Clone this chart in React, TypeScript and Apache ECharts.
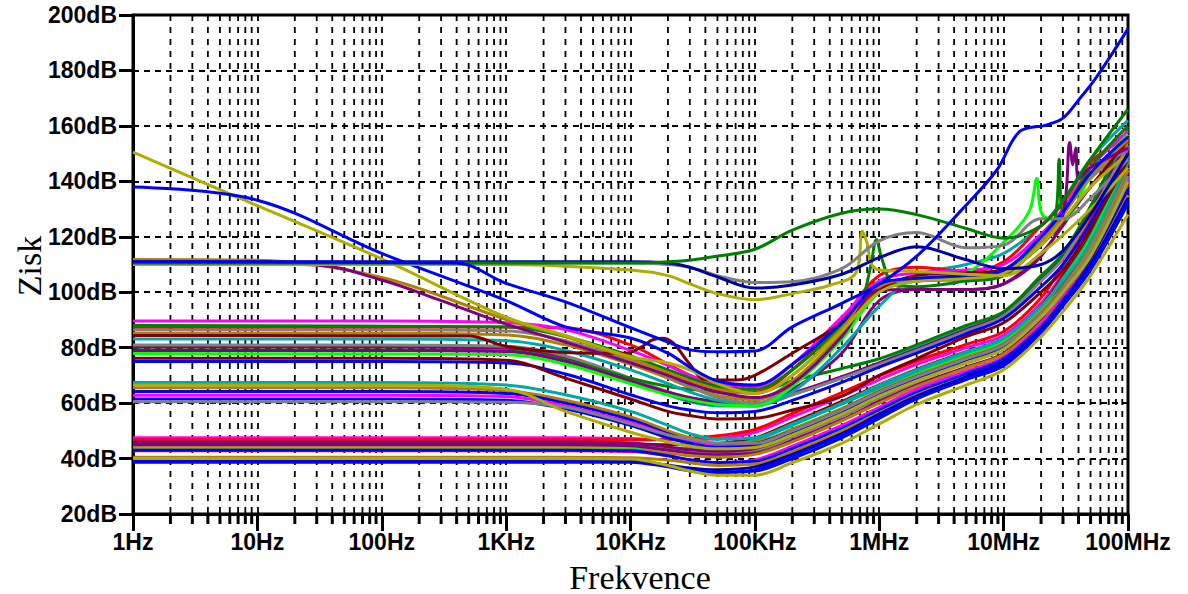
import React, { useEffect, useRef } from "react";
import * as echarts from "echarts";

// ---------- axis ticks ----------
const xTickValues = [1, 10, 100, 1e3, 1e4, 1e5, 1e6, 1e7, 1e8];
const xTickLabels = ["1Hz", "10Hz", "100Hz", "1KHz", "10KHz", "100KHz", "1MHz", "10MHz", "100MHz"];
const yTickLabels = ["20dB", "40dB", "60dB", "80dB", "100dB", "120dB", "140dB", "160dB", "180dB", "200dB"];
const decadeStarts = [1, 10, 100, 1e3, 1e4, 1e5, 1e6, 1e7];
const minorSteps = [2, 3, 4, 5, 6, 7, 8, 9];

// ---------- common frequency grid (Hz) ----------
const F = [1, 10, 100, 1e3, 3e3, 1e4, 2e4, 3e4, 5e4, 1e5, 2e5, 5e5, 1e6, 2e6, 5e6, 1e7, 2e7, 3e7, 5e7, 1e8];

// bottom group (~38-48 dB at low frequency)
const b01 = [47.5, 47.5, 47.5, 47.5, 47.5, 47.2, 46.8, 46.8, 47.2, 49.5, 55, 62.5, 68.5, 74, 80, 84.5, 96, 107, 123, 152];
const b02 = [46.8, 46.8, 46.8, 46.8, 46.8, 46.8, 47, 47.4, 48.2, 50.5, 56.2, 63.8, 69.8, 75.2, 81.2, 85.8, 98, 110, 126, 155];
const b03 = [46, 46, 46, 46, 46, 45.6, 44.2, 43.2, 42.6, 43.6, 48.6, 56.2, 62.6, 68.6, 75.2, 80.2, 92, 103, 118, 146];
const b04 = [45.5, 45.5, 45.5, 45.5, 45.5, 45.3, 45, 45, 45.4, 47.4, 53, 60.6, 66.6, 72.2, 78.6, 83.2, 95, 106, 121, 150];
const b05 = [45, 45, 45, 45, 45, 44.6, 43, 42, 41.4, 42, 46.6, 54, 60.6, 66.6, 73, 78, 90, 101, 116, 143];
const b06 = [44.5, 44.5, 44.5, 44.5, 44.5, 44.3, 43.5, 43, 43, 44.5, 50, 57.6, 64, 70, 76.5, 81.5, 93, 104, 119, 147];
const b07 = [44, 44, 44, 44, 44, 43.8, 43.6, 43.8, 44.6, 46.6, 52, 59.6, 65.6, 71, 77.6, 82.6, 94.5, 105, 120, 149];
const b08 = [43.5, 43.5, 43.5, 43.5, 43.5, 43.3, 43, 43, 43.4, 45, 50.6, 58, 64.4, 70.4, 77, 82, 93.5, 104, 119, 148];
const b09 = [43.2, 43.2, 43.2, 43.2, 43.2, 43, 42, 41, 40.5, 41.5, 46, 53.6, 60, 66, 72.6, 77.6, 89, 99, 114, 141];
const b10 = [43, 43, 43, 43, 43, 42.8, 41, 39.6, 38.6, 39, 43.6, 51, 57.6, 64, 70.6, 76, 87.5, 97, 111, 137];
const b11 = [42.8, 42.8, 42.8, 42.8, 42.8, 42.5, 41, 39.5, 38.5, 39.5, 44.5, 52, 58.5, 65, 71.5, 76.5, 88.5, 98.5, 112, 139];
const b12 = [40.5, 40.5, 40.5, 40.5, 40.5, 40.3, 39.5, 38.5, 37.5, 38, 42.5, 50, 56.5, 63, 69.5, 74.5, 86.5, 96, 110, 135];
const b13 = [40, 40, 40, 40, 40, 39.8, 37.5, 35.5, 34, 34, 38.5, 45.5, 52.5, 59.5, 66.5, 72, 84, 93, 106, 128];
const b14 = [39.5, 39.5, 39.5, 39.5, 39.5, 39.3, 37.5, 36, 35, 35.5, 40, 47.5, 54.5, 61.5, 68.5, 73.5, 85.5, 95, 108, 132];
const b15 = [39, 39, 39, 39, 39, 39, 37.6, 36.6, 36, 37, 41.5, 49, 56, 62.5, 69.5, 75, 87, 97, 110, 134];
const b16 = [38.7, 38.7, 38.7, 38.7, 38.7, 38.7, 37, 35.6, 35, 36, 41, 48.5, 55.5, 62, 69, 74.5, 86, 96, 109, 133];
const b17 = [44.2, 44.2, 44.2, 44.2, 44.2, 44, 43, 42.2, 41.8, 42.8, 47.8, 55.2, 61.8, 67.8, 74.4, 79.4, 91, 101, 116, 144];

// lower middle group (~60-67 dB)
const m01 = [67.4, 67.4, 67.4, 66.5, 63, 57, 52, 49, 47, 47.5, 52.5, 60, 66.5, 72, 78.5, 83.5, 95, 104, 118, 147];
const m02 = [66.5, 66.5, 66.5, 65, 57, 49.5, 46, 44.5, 43.5, 44, 48.5, 56, 62.5, 68, 74.5, 79.5, 91, 100, 113, 140];
const m03 = [65.5, 65.5, 65.5, 64.5, 61, 55, 50, 47.5, 45.5, 46, 50.5, 58, 64.5, 70, 76.5, 81.5, 93, 102, 116, 144];
const m04 = [64.2, 64.2, 64.2, 63.5, 60, 54, 49, 46.5, 45, 45.5, 50, 57.5, 64, 69.5, 76, 81, 92, 101, 114, 142];
const m05 = [62.8, 62.8, 62.8, 62.3, 59, 53, 48.5, 46, 44.5, 45, 49.5, 57, 63.5, 69, 75.5, 80.5, 91.5, 100.5, 114, 141];
const m06 = [61.5, 61.5, 61.5, 61, 58, 52, 47.5, 45.5, 44, 44.5, 49, 56.5, 63, 68.5, 75, 80, 91, 100, 113, 140];
const m07 = [60.5, 60.5, 60.5, 60.3, 58.5, 52.5, 48.5, 47, 45.5, 45.5, 50, 57.5, 64, 69.5, 76, 81, 92, 101, 114.5, 142];

// upper middle group, moderate rise
const d1 = [79.2, 79.2, 79.2, 78.8, 75.5, 69, 66, 65, 64, 63.8, 68, 72.5, 76, 81, 88, 93, 106, 114, 131, 159];
const d2 = [81, 81, 81, 80.5, 77, 69, 64, 61.5, 59.5, 59, 63, 69, 74, 79, 86, 91.5, 104, 112, 128, 153];
const d4 = [76.2, 76.2, 76.2, 75.5, 69, 61.5, 57, 55.5, 54.3, 54.5, 57.5, 62.5, 70, 76, 84, 89, 100, 108, 123, 148];
const d5 = [80.2, 80.2, 80.2, 79.8, 76.5, 68.5, 63.5, 61, 59.5, 59.5, 63.5, 69.5, 74.5, 79.5, 86.5, 92, 104.5, 112.5, 129, 155];
const d6 = [75, 75, 75, 74.5, 70.5, 63, 59, 57.5, 56.5, 57, 61, 67.5, 73, 78, 85, 90.5, 102, 110, 125, 150];
const d7 = [80.6, 80.6, 80.6, 80, 76, 68, 63, 60.5, 59, 59, 63, 69, 74.5, 80, 87, 92.5, 105, 113, 130, 156];

// upper middle group, steep rise
const s1 = [89.6, 89.6, 89.6, 89, 86.5, 79, 73.5, 70, 67, 66, 74, 91, 104, 107, 108, 110, 121, 130, 145, 158];
const s2 = [87.5, 87.5, 87.5, 87.5, 87.2, 81, 74, 70, 66, 64, 72, 90, 106, 109, 107.5, 111, 124, 132, 147, 156];
const s3 = [85.2, 85.2, 85.2, 84.6, 81, 74, 69, 65.8, 62.8, 61.2, 68, 85, 102, 104, 105, 106.5, 118, 128, 142, 154];
const s4 = [86.5, 86.5, 86.5, 86, 82.5, 75, 69.5, 66, 62, 60, 67, 84, 101, 104, 104.5, 106, 119, 128, 141, 152];
const s5 = [79, 79, 79, 78.6, 75, 68, 64, 62, 60.5, 60, 65, 78, 97, 101, 101, 103, 114, 124, 138, 150];
const s7 = [83.1, 83.1, 83.1, 82.5, 79, 72, 67, 64, 61, 59.5, 64, 80, 95, 106, 110, 114, 124, 133, 148, 162];

// high-level traces
const olive151 = [150.5, 131.2, 112, 91, 84.4, 76.7, 74.5, 72, 67, 63.5, 70, 86, 100, 104, 105, 107, 117, 126, 138, 150];
const blue138 = [138, 133.2, 114, 97, 87.5, 83.5, 78, 73, 68, 66.5, 74, 89, 103, 105, 106, 108, 120, 129, 143, 156];
const gold111 = [111.8, 111.5, 105.3, 90.2, 84, 76, 71, 68, 65, 63.5, 70, 87, 102, 105, 106, 107, 118, 128, 142, 155];
const navy110 = [111, 111, 111, 111, 111, 111, 110.5, 109, 105.5, 101.5, 102.6, 106.5, 112.5, 116.4, 111.7, 108.5, 110, 115, 128, 150];
const gray110 = [110.5, 110.5, 110.5, 110.5, 110.5, 110.5, 110, 109, 106, 103.5, 103.8, 108.5, 118.5, 121.5, 116, 117, 126.5, 126.5, 134, 148];
const green110 = [110.5, 110.5, 110.5, 110.5, 110.5, 110.5, 111, 111.5, 113, 115.5, 122.4, 128.5, 130, 128, 123, 119.5, 124, 133, 148, 166];

// traces with their own frequency points
const olive110Freq = [1, 1e3, 1e4, 2e4, 3e4, 5e4, 1e5, 2e5, 4e5, 6.5e5, 7.3e5, 8e5, 8.6e5, 1e6, 2e6, 5e6, 1e7, 2e7, 5e7, 1e8];
const olive110Val = [110, 110, 108, 106, 103, 99.5, 97.3, 99.5, 102.5, 107, 122, 117.5, 110.5, 108, 107.5, 106.5, 106, 114, 130, 145];
const brightBlueFreq = [1, 400, 1e3, 3e3, 1e4, 2e4, 3e4, 5e4, 1e5, 2e5, 5e5, 1e6, 2e6, 4.6e6, 8.8e6, 1.34e7, 2.2e7, 3e7, 4e7, 5.6e7, 1e8];
const brightBlueVal = [111, 110.5, 103.2, 96.5, 87.2, 82, 79.2, 78.5, 78.8, 87.5, 96, 103, 113, 129.7, 144, 157.9, 160.3, 162.8, 169.3, 177.7, 195];
const limeFreq = [1, 1e3, 3e3, 1e4, 2e4, 5e4, 1e5, 2e5, 5e5, 1e6, 2e6, 5e6, 1e7, 1.6e7, 1.85e7, 2.05e7, 3e7, 5e7, 1e8];
const limeVal = [77.9, 77.5, 74, 67, 63, 59.5, 59, 66, 83, 100, 104, 107, 118, 129, 141, 128, 126, 142, 157];
const greenSFreq = [1, 1e3, 3e3, 1e4, 2e4, 5e4, 1e5, 2e5, 5e5, 7e5, 8.5e5, 9.5e5, 1.05e6, 1.3e6, 2e6, 5e6, 1e7, 2e7, 2.6e7, 2.8e7, 3e7, 5e7, 1e8];
const greenSVal = [88, 87.5, 84, 77, 72, 66, 65, 72, 88, 95, 109, 119, 112, 103, 102, 104, 106, 120, 127, 148, 129, 145, 160];
const darkRedFreq = [1, 500, 1e3, 3e3, 9e3, 1.2e4, 1.5e4, 1.8e4, 2.2e4, 3e4, 4e4, 7e4, 1e5, 2e5, 5e5, 1e6, 2e6, 5e6, 1e7, 2e7, 5e7, 1e8];
const darkRedVal = [84.4, 84.2, 80.5, 78.3, 78, 80, 82.8, 83.4, 81.7, 74, 68.5, 68.3, 70, 78, 89, 101, 106, 107, 108, 117, 138, 155];
const purpleFreq = [1, 30, 100, 300, 1e3, 3e3, 1e4, 2e4, 3e4, 5e4, 1e5, 2e5, 5e5, 1e6, 2e6, 5e6, 1e7, 2e7, 3e7, 3.4e7, 3.6e7, 3.8e7, 4e7, 5e7, 1e8];
const purpleVal = [110.8, 109.8, 104.4, 97, 88.5, 82, 74.5, 70, 67, 64, 62, 67, 84, 100.8, 101, 101, 103, 113, 128, 154, 146, 152, 141, 145, 152];

// ---------- colours ----------
const C = {
  blue: "#0000FF",
  navy: "#0000A8",
  olive: "#AEAE00",
  green: "#008000",
  gray: "#808080",
  red: "#FF0000",
  magenta: "#FF00FF",
  purple: "#800080",
  darkred: "#800000",
  cyan: "#00A8A8",
  lime: "#00FF00",
  gold: "#B08000",
};

type Trace = { freq: number[]; values: number[]; color: string };
const traces: Trace[] = [
  { freq: F, values: b17, color: C.gray },
  { freq: F, values: b01, color: C.magenta },
  { freq: F, values: b02, color: C.red },
  { freq: F, values: b04, color: C.darkred },
  { freq: F, values: b07, color: C.cyan },
  { freq: F, values: b06, color: C.olive },
  { freq: F, values: b08, color: C.lime },
  { freq: F, values: b03, color: C.purple },
  { freq: F, values: b05, color: C.purple },
  { freq: F, values: b09, color: C.gold },
  { freq: F, values: b11, color: C.magenta },
  { freq: F, values: b10, color: C.blue },
  { freq: F, values: b12, color: C.gold },
  { freq: F, values: b15, color: C.navy },
  { freq: F, values: b14, color: C.blue },
  { freq: F, values: b16, color: C.blue },
  { freq: F, values: b13, color: C.olive },
  { freq: F, values: m01, color: C.cyan },
  { freq: F, values: m03, color: C.gold },
  { freq: F, values: m04, color: C.blue },
  { freq: F, values: m05, color: C.magenta },
  { freq: F, values: m06, color: C.blue },
  { freq: F, values: m07, color: C.gray },
  { freq: F, values: m02, color: C.olive },
  { freq: F, values: d7, color: C.cyan },
  { freq: F, values: d5, color: C.purple },
  { freq: F, values: d2, color: C.gray },
  { freq: F, values: d6, color: C.blue },
  { freq: F, values: d1, color: C.green },
  { freq: F, values: d4, color: C.darkred },
  { freq: F, values: s5, color: C.purple },
  { freq: F, values: s7, color: C.cyan },
  { freq: F, values: s3, color: C.gold },
  { freq: F, values: s4, color: C.gray },
  { freq: F, values: s2, color: C.red },
  { freq: F, values: s1, color: C.magenta },
  { freq: limeFreq, values: limeVal, color: C.lime },
  { freq: greenSFreq, values: greenSVal, color: C.green },
  { freq: darkRedFreq, values: darkRedVal, color: C.darkred },
  { freq: F, values: gold111, color: C.gold },
  { freq: purpleFreq, values: purpleVal, color: C.purple },
  { freq: F, values: olive151, color: C.olive },
  { freq: F, values: blue138, color: C.blue },
  { freq: olive110Freq, values: olive110Val, color: C.olive },
  { freq: F, values: gray110, color: C.gray },
  { freq: F, values: navy110, color: C.navy },
  { freq: F, values: green110, color: C.green },
  { freq: brightBlueFreq, values: brightBlueVal, color: C.blue },
];

const minorFreqs: number[] = [];
decadeStarts.forEach((d) => minorSteps.forEach((m) => minorFreqs.push(d * m)));

const labelFont = {
  color: "#000",
  fontFamily: "'Liberation Sans', Arial, sans-serif",
  fontWeight: "bold" as const,
  fontSize: 23,
};

export default function App() {
  const ref = useRef<HTMLDivElement>(null);
  useEffect(() => {
    if (!ref.current) return;
    const chart = echarts.init(ref.current, undefined, { renderer: "svg" });
    const lineSeries = traces.map((t, i) => ({
      type: "line",
      name: "trace" + i,
      data: t.freq.map((f, k) => [f, t.values[k]]),
      symbol: "none",
      showSymbol: false,
      smooth: 0.35,
      lineStyle: { color: t.color, width: 3 },
      itemStyle: { color: t.color },
      silent: true,
      z: 3,
    }));
    chart.setOption({
      animation: false,
      backgroundColor: "#fff",
      grid: { left: 133, right: 60, top: 15, bottom: 80, show: true, borderColor: "#000", borderWidth: 3, backgroundColor: "transparent" },
      xAxis: {
        type: "log",
        logBase: 10,
        min: 1,
        max: 1e8,
        splitNumber: 8,
        axisLine: { show: true, onZero: false, lineStyle: { color: "#000", width: 3 } },
        axisTick: { show: true, length: 17, lineStyle: { color: "#000", width: 3 } },
        axisLabel: {
          ...labelFont,
          margin: 16,
          formatter: (v: number) => {
            const idx = xTickValues.findIndex((t) => Math.abs(Math.log10(t) - Math.log10(v)) < 1e-6);
            return idx >= 0 ? xTickLabels[idx] : "";
          },
        },
        splitLine: { show: true, lineStyle: { color: "#000", width: 1.8, type: [6, 6] } },
      },
      yAxis: {
        type: "value",
        min: 20,
        max: 200,
        interval: 20,
        axisLine: { show: true, onZero: false, lineStyle: { color: "#000", width: 3 } },
        axisTick: { show: true, length: 14, lineStyle: { color: "#000", width: 3 } },
        axisLabel: {
          ...labelFont,
          margin: 16,
          formatter: (v: number) => yTickLabels[Math.round((v - 20) / 20)] ?? "",
        },
        splitLine: { show: true, lineStyle: { color: "#000", width: 1.8, type: [6, 5] } },
      },
      graphic: [
        {
          type: "text",
          x: 29,
          y: 266,
          rotation: Math.PI / 2,
          style: { text: "Zisk", fontSize: 34, fontFamily: "'Liberation Serif', 'Times New Roman', serif", fill: "#000", align: "center", verticalAlign: "middle" },
        },
        {
          type: "text",
          x: 640,
          y: 577,
          style: { text: "Frekvence", fontSize: 34, fontFamily: "'Liberation Serif', 'Times New Roman', serif", fill: "#000", align: "center", verticalAlign: "middle" },
        },
      ],
      series: [
        {
          type: "custom",
          silent: true,
          clip: false,
          z: 1,
          data: minorFreqs.map((f) => [f, 20]),
          encode: { x: 0, y: 1 },
          renderItem: (_p: any, api: any) => {
            const f = api.value(0);
            const top = api.coord([f, 200]);
            const bot = api.coord([f, 20]);
            return {
              type: "group",
              children: [
                { type: "line", shape: { x1: top[0], y1: top[1], x2: bot[0], y2: bot[1] }, style: { stroke: "#000", lineWidth: 1.8, lineDash: [6, 6] } },
                { type: "line", shape: { x1: bot[0], y1: bot[1], x2: bot[0], y2: bot[1] + 10 }, style: { stroke: "#000", lineWidth: 3 } },
              ],
            };
          },
        },
        ...lineSeries,
      ],
    });
    return () => chart.dispose();
  }, []);
  return <div ref={ref} style={{ position: "absolute", left: 0, top: 0, width: 1188, height: 594, background: "#fff" }} />;
}
